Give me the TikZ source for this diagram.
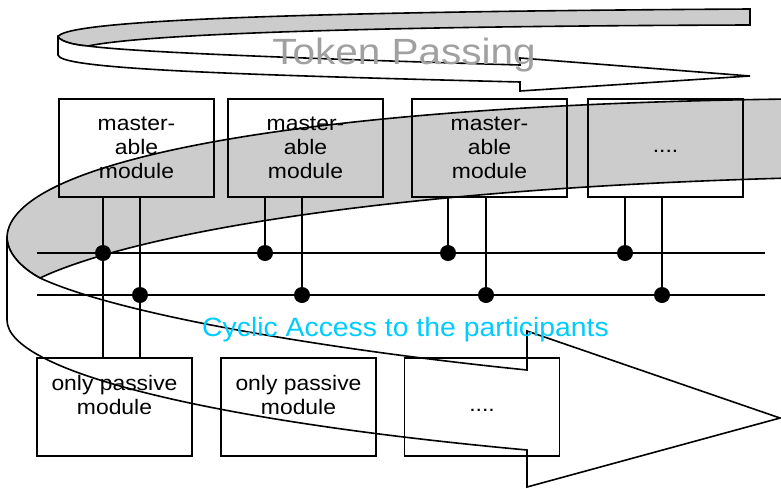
\documentclass[tikz,border=0pt]{standalone}
\usepackage{fontspec}
\setmainfont{Liberation Sans}
\newfontfamily\modfont[FakeStretch=1.09]{Liberation Sans}
\newfontfamily\tokenfont[FakeStretch=1.11]{Liberation Sans}
\newfontfamily\cyclefont[FakeStretch=1.07]{Liberation Sans}
\definecolor{bandgray}{HTML}{CCCCCC}
\definecolor{tokengray}{HTML}{A0A0A0}
\definecolor{cyclecyan}{HTML}{00CCFF}
\tikzset{
  outline/.style={draw=black, line width=1.6pt},
  backband/.style={outline, fill=bandgray},
  frontband/.style={outline, fill=white},
  modbox/.style={outline, minimum width=155pt, minimum height=98pt, inner sep=0pt,
    align=center, font=\modfont\fontsize{21}{24}\selectfont},
  wire/.style={draw=black, line width=1.6pt},
  tap/.style={circle, fill=black, inner sep=0pt, minimum size=16pt},
}
\begin{document}
\begin{tikzpicture}[x=1pt, y=-1pt]
\useasboundingbox (0,0) rectangle (781,488);
\fill[white] (0,0) rectangle (781,488);
\clip (0,0) rectangle (781,488);

% Token passing ribbon: back side (grey) and front side with arrow head
\path[backband] (58,37) .. controls (62,22) and (250,12) .. (750,9) -- (750,25)
  .. controls (400,26) and (150,33) .. (88,46)
  .. controls (75,45) and (62,42) .. (58,37) -- cycle;
\path[frontband] (58,37) .. controls (62,42) and (75,45) .. (88,46)
  .. controls (140,53) and (350,60) .. (520,65) -- (520,58) -- (750,76)
  -- (520,91) -- (520,82) .. controls (200,74) and (60,68) .. (58,55) -- cycle;

% Cyclic access ribbon: back side (grey) and front side with arrow head
\path[backband] (7,237) .. controls (10,160) and (300,105) .. (790,99) -- (790,178)
  .. controls (350,190) and (120,240) .. (40,278)
  .. controls (25,270) and (7,255) .. (7,237) -- cycle;
\path[frontband] (7,237) .. controls (7,255) and (25,270) .. (40,278)
  .. controls (120,315) and (330,350) .. (527,370) -- (527,331) -- (780,418)
  -- (527,487) -- (527,450) .. controls (200,420) and (7,370) .. (7,320) -- cycle;

% Modules
\node[modbox] (m1) at (136.5,148) {master-\\able\\module};
\node[modbox] (m2) at (305.5,148) {master-\\able\\module};
\node[modbox] (m3) at (489.5,148) {master-\\able\\module};
\node[modbox] (m4) at (665.5,148) {....\strut};
\node[modbox] (p1) at (114.5,407) {only passive\\module\\\mbox{}};
\node[modbox] (p2) at (298.5,407) {only passive\\module\\\mbox{}};
\node[modbox] (p3) at (482,407) {....\strut};

% Two bus lines
\coordinate (busAw) at (37,253);
\coordinate (busAe) at (765,253);
\coordinate (busBw) at (37,295);
\coordinate (busBe) at (765,295);
\draw[wire] (busAw) -- (busAe);
\draw[wire] (busBw) -- (busBe);

% Bus taps
\coordinate (t1a) at (103,253);
\coordinate (t1b) at (140,295);
\coordinate (t2a) at (265,253);
\coordinate (t2b) at (302,295);
\coordinate (t3a) at (448,253);
\coordinate (t3b) at (486,295);
\coordinate (t4a) at (625,253);
\coordinate (t4b) at (662,295);

\draw[wire] (m1.south -| t1a) -- (p1.north -| t1a);
\draw[wire] (m1.south -| t1b) -- (p1.north -| t1b);
\draw[wire] (m2.south -| t2a) -- (t2a);
\draw[wire] (m2.south -| t2b) -- (t2b);
\draw[wire] (m3.south -| t3a) -- (t3a);
\draw[wire] (m3.south -| t3b) -- (t3b);
\draw[wire] (m4.south -| t4a) -- (t4a);
\draw[wire] (m4.south -| t4b) -- (t4b);

\foreach \t in {t1a,t1b,t2a,t2b,t3a,t3b,t4a,t4b}
  \node[tap] (dot-\t) at (\t) {};

% Captions
\node[anchor=base, inner sep=0pt, text=tokengray,
  font=\tokenfont\fontsize{36.5}{40}\selectfont] (token) at (404,64) {Token Passing};
\node[anchor=base, inner sep=0pt, text=cyclecyan,
  font=\cyclefont\fontsize{26.5}{30}\selectfont] (cycle) at (405.5,336)
  {Cyclic Access to the participants};
\end{tikzpicture}
\end{document}
